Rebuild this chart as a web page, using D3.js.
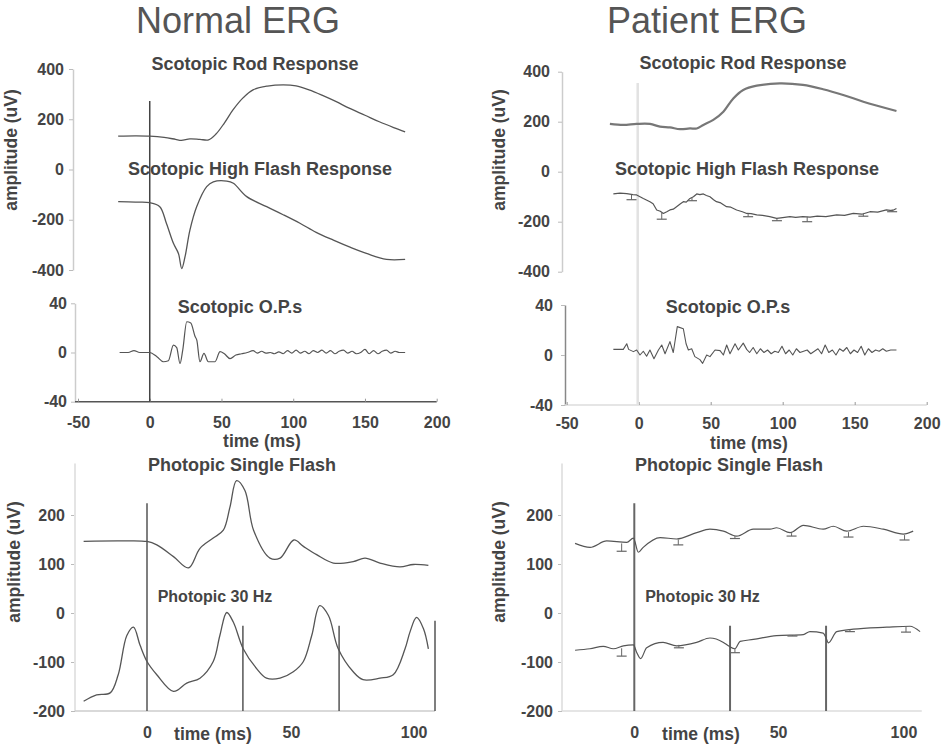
<!DOCTYPE html>
<html><head><meta charset="utf-8">
<script src="https://cdn.jsdelivr.net/npm/d3@7"></script>
<style>body{margin:0;background:#fff}svg{display:block}</style>
</head><body><svg id="c" width="949" height="748"></svg>
<script>
// ---------------- DATA ----------------
// Normal ERG – scotopic (time ms, amplitude uV)
const normalRod = [[-22,133],[-10,134],[0,133],[10,128],[18,120],[22,116],[28,122],[35,120],[41,118],[46,140],[52,185],[58,237],[65,285],[72,317],[82,332],[93,337],[102,333],[111,317],[120,296],[130,270],[139,244],[150,216],[160,190],[170,167],[178,150]];
const normalHighFlash = [[-22,-128],[-10,-130],[0,-132],[7,-148],[11.6,-214],[16.5,-294],[20,-334],[22.3,-394],[24.6,-347],[28,-241],[32.7,-148],[39.7,-68],[44.3,-49],[53.7,-46],[58.3,-55],[67.6,-108],[81.5,-148],[93,-180],[104.7,-214],[116,-250],[128,-281],[140,-310],[151,-334],[165,-358],[178,-358]];
const normalOPs = [[-21,0],[-15,0],[-11,1.5],[-7,0],[0,0],[5,-3.4],[9.5,-7.5],[13,-6.7],[16.5,6],[18.8,4],[21.1,-9],[23,2],[25.8,25],[28.6,24],[31.6,13],[32.8,10],[35,-7.5],[37.8,-0.7],[40.8,-7.5],[45.5,-7.5],[49,0.7],[52,-1],[56,-5],[60,-2],[64,-1],[68,0],[72,1.5],[75,-0.5],[78,1],[81,-0.5],[84,0],[87,-1],[90,0.5],[93,-1],[96,1.5],[99,-0.5],[102,2],[105,-0.5],[108,1],[111,-1],[114,1.5],[117,0],[120,2],[123,-0.5],[126,1.5],[129,-1],[132,1],[135,2],[138,-0.5],[141,1],[144,-1],[147,0],[150,2.5],[153,-1],[156,1.5],[159,-1],[162,1],[165,2],[168,-0.5],[171,1],[174,0],[178,0]];
// Patient ERG – scotopic
const patientRod = [[-20,191],[-10.7,187],[-1.4,191],[7.8,191],[14.8,180],[21.7,177],[28.7,170],[35.6,173],[40.3,173],[44.9,187],[51.8,207],[58.8,240],[65.7,293],[72.6,327],[82,344],[98,353],[114,347],[128,330],[142,307],[156,280],[179,243]];
const patientHighFlash = [[-17.6,-89],[-13,-86],[-8.3,-88],[-4,-92],[-1.4,-93],[3.2,-107],[7.8,-120],[10,-128],[12.5,-153],[15,-158],[17.1,-167],[19.5,-160],[21.7,-153],[24,-150],[26.3,-140],[29,-128],[31,-120],[33,-122],[35.6,-107],[38,-100],[40.3,-89],[42.5,-92],[44.9,-89],[47,-95],[49.5,-100],[52,-112],[54,-120],[57,-125],[61,-140],[64,-142],[68,-153],[72,-160],[75,-167],[78,-168],[82,-173],[86,-175],[91,-180],[95.8,-187],[100,-184],[105,-180],[109,-183],[114,-180],[119,-182],[124,-178],[130,-180],[137.5,-173],[143,-175],[149,-167],[155,-170],[160.6,-160],[166,-162],[172,-153],[176,-156],[179,-147]];
const patientOPs = [[-17.6,4.5],[-10.7,4.5],[-8.3,9],[-7,4.5],[-3.7,2.7],[-1.4,4],[0.9,0],[3.2,3],[5.5,-1],[7.8,4],[10.6,-3],[13.7,4],[16,8],[18.3,1],[21.7,10.7],[24,2],[26.8,22.7],[31,21],[32.9,9],[34.5,4],[36.8,5],[39,-1.3],[42.5,-3.7],[44.4,-6.7],[47.2,0],[49.5,-1.3],[53,4],[56.5,3.5],[58.8,0],[61.1,8],[63.4,1],[66.9,9],[69.2,4],[72.6,9.5],[75,4.5],[77,2],[79.5,6],[82,1],[84.5,5],[87,2],[89.5,4],[92,1],[94.5,3],[97,2],[99.5,7],[102,1],[104.5,4],[107,0],[109.5,5],[112,2],[114.5,3],[117,4],[119.5,1],[122,3],[124.5,5],[127,1],[129.5,8],[132,2],[134.5,4],[137,0],[139.5,5],[142,3],[144.5,6],[147,1],[149.5,4],[152,2],[154.5,7],[157,0],[159.5,5],[162,2],[164.5,4],[167,3],[169.5,5],[172,3],[175,4],[179,4]];
const patientHighFlashErr = [[-5,-92,-112],[16,-165,-190],[37,-105,-116],[76,-167,-180],[96,-187,-196],[117,-180,-200],[156,-165,-178],[176,-150,-160]];
// Normal ERG – photopic
const normalSingleFlash = [[-22,146],[-10,147],[0,146],[3.4,139],[9.2,115],[14.4,92],[18.4,132],[23,153],[26.5,169],[28.8,216],[31.1,270],[34,250],[37,169],[42.7,112],[46.2,112],[51,149],[54.3,136],[58.9,119],[64.7,102],[71.6,105],[75.7,112],[80.9,102],[87.8,94],[92.5,99],[97.7,97]];
const normal30Hz = [[-22,-180],[-17.5,-167],[-12.8,-163],[-10,-126],[-7,-46],[-4.7,-29],[-2.4,-66],[0,-99],[3.4,-126],[9.2,-160],[13.8,-143],[18.4,-133],[23,-99],[25.3,-46],[27.7,1],[30,-19],[33.4,-73],[38,-113],[41.5,-133],[46.2,-133],[50.8,-120],[54.3,-99],[57.2,-46],[60,15],[63,-5],[66.4,-73],[71.6,-120],[75,-136],[80.9,-133],[85.5,-126],[89.6,-73],[91.3,-39],[93.6,-9],[96,-32],[97.7,-73]];
// Patient ERG – photopic
const patientSingleFlash = [[-20.6,142],[-15.4,134],[-9.6,147],[-2.6,144],[-0.3,153],[1.4,124],[3.1,134],[9,154],[14.7,151],[21.7,164],[26.3,171],[31,167],[35.6,157],[41.4,171],[47.2,171],[49.5,174],[54.2,164],[58.8,179],[65.7,171],[69.2,177],[73.9,167],[79.7,177],[86.6,171],[93.6,161],[97,167]];
const patient30Hz = [[-20.6,-76],[-15.4,-73],[-10.8,-68],[-7.3,-73],[-3.8,-67],[-0.3,-65],[0.8,-80],[2.2,-93],[4.3,-71],[10,-60],[14.7,-67],[21.7,-60],[26.3,-51],[31,-60],[33,-68],[35,-73],[36.8,-58],[41.4,-54],[49.5,-46],[58.8,-44],[61.1,-38],[65.7,-41],[66.7,-51],[67.5,-61],[70.4,-38],[76.2,-33],[87.8,-29],[95.9,-27],[99.4,-38]];
const patientSingleFlashErr = [[-4.4,142,126],[15.3,150,139],[35,158,152],[54.7,163,157],[74.5,165,155],[94,159,149]];
const patient30HzErr = [[-4.4,-72,-88],[15.5,-65,-71],[35,-72,-81],[55,-45,-47],[75,-33,-38],[94.5,-27,-39]];
// Stimulus markers (time ms, top amplitude uV)
const scotopicStim = [0];
const normalPhotopicStim = [[0,224],[33.3,-26],[66.7,-26],[100,-16]];
const patientPhotopicStim = [[0,224],[33.3,-26],[66.7,-26]];
// Tick labels
const scotTimeTicks = [-50,0,50,100,150,200];
const scotAmpTicks = [400,200,0,-200,-400];
const opAmpTicks = [40,0,-40];
const photTimeTicks = [0,50,100];
const photAmpTicks = [200,100,0,-100,-200];
// Titles
const panelTitles = ["Normal ERG","Patient ERG"];
const scotLabels = ["Scotopic Rod Response","Scotopic High Flash Response","Scotopic O.P.s"];
const photLabels = ["Photopic Single Flash","Photopic 30 Hz"];

// ---------------- DRAW ----------------
const svg = d3.select('#c');
const FONT = "'Liberation Sans', Arial, Helvetica, sans-serif";
const TXT = '#444', TRACE = '#555';
const fmt = d => String(d);   // plain hyphen minus, as in the reference

const xTL = d3.scaleLinear([-50,200],[78,436.7]);
const yTLu = d3.scaleLinear([-400,400],[270,69]);
const yTLo = d3.scaleLinear([-40,40],[401.7,303.3]);
const xTR = d3.scaleLinear([-50,200],[566.7,926.7]);
const yTRu = d3.scaleLinear([-400,400],[271.7,71.7]);
const yTRo = d3.scaleLinear([-40,40],[405,305]);
const xBL = d3.scaleLinear([0,100],[147,435]);
const yBL = d3.scaleLinear([-200,200],[711,515]);
const xBR = d3.scaleLinear([0,100],[634.3,921.8]);
const yBR = d3.scaleLinear([-200,200],[711,515]);

function text(x,y,s,size,weight,anchor,fill,rot){
  const t = svg.append('text').attr('x',x).attr('y',y).text(s)
    .attr('font-family',FONT).attr('font-size',size).attr('font-weight',weight||'bold')
    .attr('text-anchor',anchor||'middle').attr('fill',fill||TXT);
  if(rot) t.attr('transform',`rotate(${rot},${x},${y})`);
  return t;
}
function yAxis(scale,x,ticks,pad,color,extendTop){
  const g = svg.append('g').attr('transform',`translate(${x},0)`)
    .call(d3.axisLeft(scale).tickValues(ticks).tickFormat(fmt).tickSizeInner(4).tickSizeOuter(0).tickPadding(pad));
  g.select('.domain').attr('stroke',color).attr('stroke-width',1.5);
  if(extendTop!==undefined){
    g.select('.domain').remove();
    g.append('line').attr('x1',0).attr('x2',0).attr('y1',scale(extendTop)).attr('y2',scale(scale.domain()[0]))
      .attr('stroke',color).attr('stroke-width',2);
  }
  g.selectAll('.tick line').attr('stroke','#bbb');
  g.selectAll('.tick text').attr('font-family',FONT).attr('font-size',16).attr('font-weight','bold').attr('fill',TXT);
  return g;
}
function xAxis(scale,y,ticks,pad,color,x0,width){
  const g = svg.append('g').attr('transform',`translate(0,${y})`)
    .call(d3.axisBottom(scale).tickValues(ticks).tickFormat(fmt).tickSizeInner(-3).tickSizeOuter(0).tickPadding(pad));
  g.select('.domain').remove();
  g.insert('line',':first-child').attr('x1',x0).attr('x2',scale.range()[1]).attr('y1',0).attr('y2',0)
    .attr('stroke',color).attr('stroke-width',width);
  g.selectAll('.tick line').attr('stroke','#999');
  g.selectAll('.tick text').attr('font-family',FONT).attr('font-size',16).attr('font-weight','bold').attr('fill',TXT);
  return g;
}
function trace(x,y,data,w,col,curve){
  svg.append('path').datum(data)
    .attr('d',d3.line().x(d=>x(d[0])).y(d=>y(d[1])).curve(curve||d3.curveCatmullRom.alpha(0.5)))
    .attr('fill','none').attr('stroke',col||TRACE).attr('stroke-width',w||1.3).attr('stroke-linejoin','round');
}
function errBars(x,y,data){
  data.forEach(d=>{
    svg.append('line').attr('x1',x(d[0])).attr('x2',x(d[0])).attr('y1',y(d[1])).attr('y2',y(d[2])).attr('stroke','#666').attr('stroke-width',1);
    svg.append('line').attr('x1',x(d[0])-5).attr('x2',x(d[0])+5).attr('y1',y(d[2])).attr('y2',y(d[2])).attr('stroke','#666').attr('stroke-width',1.2);
  });
}

// Titles
text(238,33,panelTitles[0],36,'normal','middle','#555');
text(707,33,panelTitles[1],36,'normal','middle','#555');

// ---- Top-left (normal scotopic)
yAxis(yTLu,73,scotAmpTicks,5,'#ccc');
yAxis(yTLo,75,opAmpTicks,4,'#ccc');
xAxis(xTL,yTLo(-40),scotTimeTicks,15,'#555',75,1.6);
scotopicStim.forEach(t=>{
  svg.append('line').attr('x1',xTL(t)).attr('x2',xTL(t)).attr('y1',yTLu(273)).attr('y2',yTLo(-40)).attr('stroke','#444').attr('stroke-width',1.5);
});
trace(xTL,yTLu,normalRod);
trace(xTL,yTLu,normalHighFlash);
trace(xTL,yTLo,normalOPs,1.2,TRACE,d3.curveMonotoneX);
text(255,70,scotLabels[0],18);
text(260,175,scotLabels[1],18);
text(240,312.7,scotLabels[2],18);
text(17,150,'amplitude (uV)',17.5,'bold','middle',TXT,-90);
text(262,447,'time (ms)',17.5);

// ---- Top-right (patient scotopic)
yAxis(yTRu,562,scotAmpTicks,8,'#ccc');
yAxis(yTRo,565,opAmpTicks,8,'#888');
xAxis(xTR,yTRo(-40),scotTimeTicks,13,'#ddd',565,1.6);
scotopicStim.forEach(t=>{
  svg.append('line').attr('x1',xTR(t)-1).attr('x2',xTR(t)-1).attr('y1',yTRu(355)).attr('y2',yTRo(-40)).attr('stroke','#e2e2e2').attr('stroke-width',2.5);
});
trace(xTR,yTRu,patientRod,2.2,'#777');
trace(xTR,yTRu,patientHighFlash,1.2,TRACE,d3.curveLinear);
errBars(xTR,yTRu,patientHighFlashErr);
trace(xTR,yTRo,patientOPs,1.1,TRACE,d3.curveLinear);
text(743,69.3,scotLabels[0],18);
text(747,175,scotLabels[1],18);
text(728,312.7,scotLabels[2],18);
text(505,150,'amplitude (uV)',17.5,'bold','middle',TXT,-90);
text(749,449,'time (ms)',17.5);

// ---- Bottom-left (normal photopic)
yAxis(yBL,75,photAmpTicks,6,'#e4e4e4',305);
const gBL = xAxis(xBL,yBL(-200),photTimeTicks,16,'#ccc',75,1.6);
gBL.selectAll('.tick line').remove();
gBL.selectAll('.tick text').filter(d=>d===100).attr('text-anchor','end').attr('dx',-8);
normalPhotopicStim.forEach(d=>{
  svg.append('line').attr('x1',xBL(d[0])).attr('x2',xBL(d[0])).attr('y1',yBL(d[1])).attr('y2',yBL(-200)).attr('stroke','#555').attr('stroke-width',1.5);
});
trace(xBL,yBL,normalSingleFlash);
trace(xBL,yBL,normal30Hz);
text(242,470.7,photLabels[0],18);
text(215,601.7,photLabels[1],16);
text(20,562,'amplitude (uV)',17.5,'bold','middle',TXT,-90);
text(213,740,'time (ms)',17.5);

// ---- Bottom-right (patient photopic)
yAxis(yBR,562,photAmpTicks,5,'#e4e4e4',305);
const gBR = xAxis(xBR,yBR(-200),photTimeTicks,16,'#ddd',562,1.6);
gBR.selectAll('.tick line').remove();
gBR.selectAll('.tick text').filter(d=>d===100).attr('text-anchor','end').attr('dx',-5);
patientPhotopicStim.forEach(d=>{
  svg.append('line').attr('x1',xBR(d[0])).attr('x2',xBR(d[0])).attr('y1',yBR(d[1])).attr('y2',yBR(-200)).attr('stroke','#666').attr('stroke-width',2);
});
trace(xBR,yBR,patientSingleFlash,1.2,TRACE,d3.curveMonotoneX);
errBars(xBR,yBR,patientSingleFlashErr);
trace(xBR,yBR,patient30Hz,1.2,TRACE,d3.curveMonotoneX);
errBars(xBR,yBR,patient30HzErr);
text(729,470.7,photLabels[0],18);
text(702.5,601.7,photLabels[1],16);
text(505,562,'amplitude (uV)',17.5,'bold','middle',TXT,-90);
text(701,740,'time (ms)',17.5);
</script></body></html>
